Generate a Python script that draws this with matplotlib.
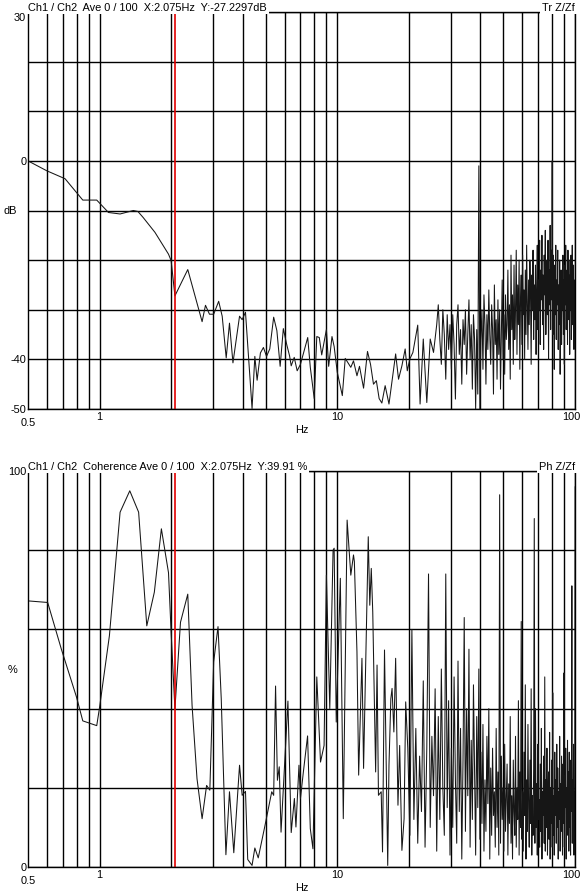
import numpy as np
import matplotlib
matplotlib.use("Agg")
import matplotlib.pyplot as plt
from matplotlib.transforms import blended_transform_factory, offset_copy
from matplotlib.ticker import NullLocator

plt.rcParams['font.family'] = ['Liberation Sans', 'DejaVu Sans']
plt.rcParams['font.size'] = 7.9

# ---- data ----
cursor_hz = 2.075

# transfer function Z/Zf (dB), low frequency part: individual vertices
tr_low_hz = [0.5, 0.6, 0.716, 0.85, 0.973, 1.09, 1.22, 1.387, 1.45, 1.525,
             1.71, 1.95, 2.0, 2.075, 2.35, 2.7, 2.79, 2.9, 3.02, 3.17,
             3.28, 3.41, 3.52, 3.64, 3.88, 3.98, 4.11, 4.38, 4.5, 4.6,
             4.75, 4.89, 5.04, 5.2, 5.4, 5.57, 5.75, 5.93, 6.12, 6.3,
             6.4, 6.59, 6.78, 7.0, 7.51, 7.7, 8.0, 8.2, 8.4, 8.6,
             9.0, 9.2, 9.5, 9.7, 10.0, 10.5, 10.8, 11.1, 11.4, 11.7,
             12.1, 12.4, 12.9, 13.4, 13.8, 14.2, 14.6, 15.0, 15.4, 15.9,
             16.5, 17.0, 17.6, 18.1, 18.7, 19.3, 19.7, 20.2, 20.8, 21.8,
             22.3, 23.0, 23.8, 24.6, 25.4]
tr_low_db = [0.0, -2.0, -3.6, -7.9, -7.9, -10.4, -10.7, -10.0, -10.2, -11.4,
             -14.4, -18.8, -20.1, -27.2, -21.9, -32.4, -29.1, -30.9, -30.9, -28.3,
             -31.3, -39.7, -32.7, -40.7, -31.3, -32.0, -30.5, -49.9, -39.4, -44.2,
             -38.7, -37.6, -39.4, -37.9, -31.5, -34.2, -41.4, -33.8, -36.9, -39.3,
             -41.3, -39.6, -42.3, -41.0, -35.6, -41.6, -47.9, -35.4, -35.6, -39.1,
             -34.0, -41.4, -35.4, -37.4, -42.6, -47.3, -39.8, -40.7, -41.6, -40.3,
             -43.3, -41.4, -45.8, -38.4, -41.0, -45.0, -44.3, -47.9, -48.8, -45.3,
             -49.0, -44.3, -38.9, -44.0, -41.3, -37.9, -42.3, -39.9, -38.6, -33.1,
             -49.0, -35.9, -48.7, -35.9, -38.6]

# dense part from 26.2 Hz on, one value every 0.4 Hz
tr_hi_start, tr_hi_step = 26.2, 0.4
tr_hi_db = [-33, -29, -36, -41, -30, -35, -44, -31, -38, -33,
            -42, -31, -37, -48, -33, -29, -39, -34, -45, -32,
            -37, -30, -43, -35, -28, -40, -33, -46, -31, -36, -50, -34, -47,
            -1, -50,
            -36, -30, -42, -27, -33, -45, -31, -38, -26, -35,
            -41, -29, -34, -47, -25, -37, -32, -44, -28, -39,
            -30, -46, -35, -24, -40, -31, -43, -27, -36, -33,
            -22, -38, -29, -44, -19, -34, -27, -41, -21, -36,
            -30, -18, -39, -25, -33, -20, -42, -28, -23, -37,
            -19, -31, -26, -40, -22, -35, -17, -29, -38, -24,
            -33, -20, -27, -41, -23, -30, -18, -36, -25, -32,
            -21, -39, -26, -17, -34, -24, -30, -16, -37, -22,
            -28, -15, -33, -23, -38, -19, -27, -14, -35, -25,
            -20, -31, -16, -40, -22, -29, -13, -34, -18, -28,
            0,
            -35, -19, -27, -42, -21, -31, -17, -36, -24, -29,
            -18, -38, -25, -33, -20, -43, -28, -22, -37, -26,
            -30, -19, -35, -24, -41, -21, -29, -17, -34, -27,
            -22, -37, -18, -32, -26, -20, -39, -23, -30, -19,
            -36, -25, -17, -33, -28, -21, -38, -24, -31, -26]

# coherence (%), low frequency part
coh_low_hz = [0.5, 0.605, 0.69, 0.80, 0.85, 0.973, 1.0, 1.1, 1.22, 1.34,
              1.46, 1.58, 1.70, 1.82, 1.95, 2.0, 2.075, 2.19, 2.35, 2.45,
              2.57, 2.7, 2.82, 2.91, 3.02, 3.15, 3.25, 3.4, 3.52, 3.67,
              3.88, 3.98, 4.11, 4.2, 4.38, 4.5, 4.65, 4.95, 5.3, 5.4,
              5.5, 5.6, 5.7, 5.8, 6.1, 6.2, 6.4, 6.6, 6.7, 6.9,
              7.0, 7.2, 7.5, 7.7, 7.9, 8.2, 8.5, 8.8, 9.0, 9.3,
              9.6, 9.7, 9.9, 10.3, 10.6, 11.0, 11.4, 11.7, 11.8, 12.1,
              12.3, 12.7, 12.9, 13.5, 13.7, 13.9, 14.1, 14.5, 14.7, 14.9,
              15.3, 15.5, 15.8, 16.3, 16.5, 16.8, 17.0, 17.3, 17.6, 18.0,
              18.3, 18.7, 19.1, 19.4]
coh_low_pct = [67.2, 66.8, 55.1, 42.9, 36.9, 35.7, 40.3, 58.4, 89.6, 95.0,
               89.6, 60.9, 69.4, 85.4, 74.3, 59.2, 39.9, 61.8, 68.9, 40.8,
               22.3, 12.2, 20.6, 19.4, 51.8, 60.7, 42.5, 3.1, 19.0, 3.6,
               25.7, 18.1, 19.1, 1.9, 0.4, 4.8, 2.3, 10.1, 19.0, 18.1,
               45.7, 21.9, 25.3, 8.8, 34.1, 41.9, 8.7, 17.3, 10.1, 25.7,
               17.3, 24.0, 33.1, 9.7, 4.6, 48.0, 26.5, 30.7, 73.7, 40.0,
               80.0, 80.5, 36.6, 72.9, 12.2, 87.6, 73.7, 78.8, 77.1, 54.3,
               23.2, 52.7, 24.9, 83.4, 66.1, 75.4, 64.4, 24.0, 51.0, 18.1,
               19.0, 3.8, 54.8, 0.4, 25.7, 42.5, 45.1, 34.1, 52.7, 15.6,
               30.7, 4.2, 12.2, 41.7]

coh_hi_start, coh_hi_step = 19.8, 0.4
coh_hi_pct = [30, 8, 60, 12, 35, 6, 28, 14, 47, 5,
              30, 74, 10, 33, 18, 45, 4, 38, 12, 50,
              20, 8, 74, 15, 42, 3, 30, 10, 48, 22,
              6, 52, 14, 35, 2, 27, 63, 9, 40, 18,
              55, 5, 32, 12, 46, 24, 3, 38, 15, 50,
              7, 29, 11, 36, 4, 22, 9, 33, 16, 40,
              2, 25, 8, 30, 13, 19, 5, 35, 10, 24,
              3, 94, 6, 28, 12, 20, 4, 31, 9, 17,
              26, 3, 21, 11, 38, 6, 18, 2, 27, 14,
              8, 33, 5, 20, 12, 42, 3, 24, 10, 62,
              7, 19, 4, 29, 13, 46, 2, 22, 9, 36,
              15, 5, 27, 11, 45, 3, 18, 8, 25, 88,
              6, 40, 10, 21, 3, 31, 12, 17, 5, 26,
              9, 35, 2, 19, 13, 28, 6, 48, 4, 22,
              10, 30, 3, 16, 24, 7, 34, 2, 20, 11,
              27, 5, 44, 8, 18, 3, 29, 13, 22, 6,
              31, 10, 25, 2, 19, 12, 33, 4, 21, 9,
              28, 14, 3, 26, 11, 49, 5, 23, 15, 30,
              2, 20, 8, 32, 12, 24, 4, 29, 10, 18,
              3, 27, 14, 71, 6, 22, 9, 31, 3, 19,
              12, 96]

grid_hz = [0.6, 0.7, 0.8, 0.9, 1, 2, 3, 4, 5, 6, 7, 8, 9, 10,
           20, 30, 40, 50, 60, 70, 80, 90, 100]
x_labels = [1, 10, 100]

tr_f = np.concatenate([tr_low_hz, tr_hi_start + tr_hi_step * np.arange(len(tr_hi_db))])
tr_v = np.concatenate([tr_low_db, tr_hi_db])
coh_f = np.concatenate([coh_low_hz, coh_hi_start + coh_hi_step * np.arange(len(coh_hi_pct))])
coh_v = np.concatenate([coh_low_pct, coh_hi_pct])

fig = plt.figure(figsize=(5.8, 8.95), dpi=100)
ax1 = fig.add_axes([28 / 580, 1 - 410 / 895, 547 / 580, 397 / 895])
ax2 = fig.add_axes([28 / 580, 1 - 868 / 895, 547 / 580, 396 / 895])


def frame(ax, ylim, ystep):
    ax.set_xscale('log')
    ax.set_xlim(0.5, 100)
    ax.set_ylim(*ylim)
    ax.set_xticks(grid_hz)
    ax.xaxis.set_minor_locator(NullLocator())
    ax.set_yticks(np.arange(ylim[0], ylim[1] + 1, ystep))
    ax.tick_params(length=0, labelbottom=False, labelleft=False)
    ax.set_axisbelow(True)
    ax.grid(True, color='black', lw=1.0)
    for s in ax.spines.values():
        s.set_color('black')
        s.set_linewidth(1.0)


def labels(ax, ylabs, unit, unit_y, title, right, h):
    ty = blended_transform_factory(ax.transAxes, ax.transData)
    for v, lab, va in ylabs:
        ax.text(-0.003, v, lab, transform=ty, ha='right', va=va)
    ax.text(-0.02, unit_y, unit, transform=ty, ha='right', va='center')
    tx = blended_transform_factory(ax.transData, ax.transAxes)
    for v in x_labels:
        if v == 100:
            ax.text(v, -7.5 / h, str(v), transform=offset_copy(tx, fig=fig, x=-4, y=0, units='dots'),
                    ha='center', va='center')
        else:
            ax.text(v, -7.5 / h, str(v), transform=tx, ha='center', va='center')
    ax.text(0, -13.5 / h, '0.5', transform=ax.transAxes, ha='center', va='center')
    ax.text(0.5, -20 / h, 'Hz', transform=ax.transAxes, ha='center', va='center')
    box = dict(boxstyle='square,pad=0.16', fc='white', ec='none')
    ax.text(0, 1, title, transform=ax.transAxes, ha='left', va='bottom', bbox=box)
    ax.text(1, 1, right, transform=ax.transAxes, ha='right', va='bottom', bbox=box)


frame(ax1, (-50, 30), 10)
ax1.plot(tr_f, tr_v, color='#161616', lw=0.75)
ax1.axvline(cursor_hz, color='#e00000', lw=1.2)
labels(ax1, [(30, '30', 'top'), (0, '0', 'center'), (-40, '-40', 'center'), (-50, '-50', 'center')],
       'dB', -10, 'Ch1 / Ch2  Ave 0 / 100  X:2.075Hz  Y:-27.2297dB', 'Tr Z/Zf', 397)

frame(ax2, (0, 100), 20)
ax2.plot(coh_f, coh_v, color='#161616', lw=0.75)
ax2.axvline(cursor_hz, color='#e00000', lw=1.2)
labels(ax2, [(100, '100', 'center'), (0, '0', 'center')],
       '%', 50, 'Ch1 / Ch2  Coherence Ave 0 / 100  X:2.075Hz  Y:39.91 %', 'Ph Z/Zf', 396)

fig.savefig('out.png', dpi=100)
